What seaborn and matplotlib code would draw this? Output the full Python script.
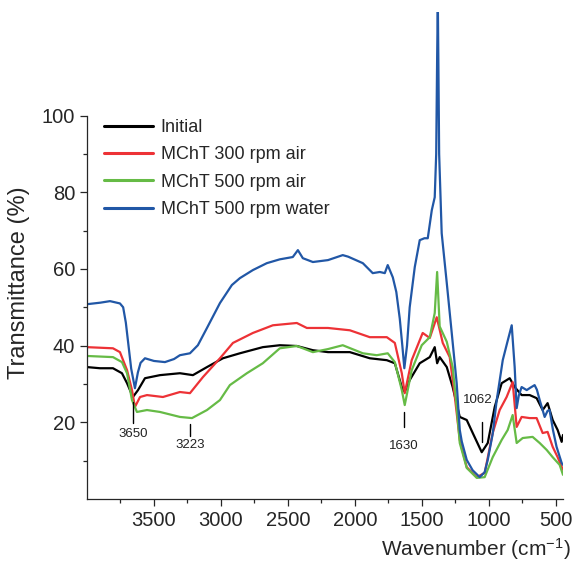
import pandas as pd
import seaborn as sns
import matplotlib.pyplot as plt

# FTIR spectra (wavenumber in cm-1, transmittance in %)
wn_initial = [4000, 3903, 3806, 3739, 3701, 3657, 3619, 3567, 3455, 3306, 3209, 3104, 2985, 2858,
              2687, 2560, 2433, 2313, 2200, 2037, 1888, 1761, 1701, 1649, 1627, 1590, 1515, 1440,
              1403, 1385, 1366, 1313, 1269, 1216, 1164, 1119, 1052, 1007, 955, 903, 843, 806, 754,
              694, 642, 597, 560, 522, 485, 455, 445]
t_initial = [34.4, 34.1, 34.1, 32.8, 30.2, 26.6, 28.4, 31.5, 32.3, 32.8, 32.3, 34.4, 36.7, 38.0,
             39.6, 40.1, 39.9, 38.8, 38.3, 38.3, 36.7, 36.2, 35.4, 29.2, 27.9, 31.0, 35.4, 37.0,
             39.6, 35.4, 37.0, 34.4, 29.2, 21.4, 20.6, 17.2, 12.2, 14.6, 24.0, 30.2, 31.5, 29.2, 27.1,
             27.1, 26.3, 23.2, 25.0, 20.6, 18.0, 14.9, 16.7]

wn_300air = [4000, 3806, 3754, 3701, 3664, 3642, 3604, 3552, 3433, 3306, 3231, 3134, 3007, 2910,
             2761, 2612, 2433, 2358, 2200, 2037, 1888, 1761, 1701, 1649, 1627, 1575, 1515, 1493,
             1440, 1388, 1343, 1291, 1254, 1216, 1164, 1089, 1030, 970, 918, 866, 821, 791, 754,
             694, 642, 597, 560, 522, 485, 445]
t_300air = [39.6, 39.3, 38.3, 33.6, 28.4, 24.0, 26.6, 27.1, 26.6, 27.9, 27.6, 31.8, 36.7, 40.7,
            43.3, 45.3, 45.9, 44.6, 44.6, 44.0, 42.2, 42.2, 40.7, 32.8, 27.6, 36.2, 41.4, 43.3,
            42.0, 47.4, 40.7, 37.0, 27.0, 15.4, 8.3, 5.7, 6.8, 17.2, 23.2, 26.6, 30.5, 18.8, 21.4,
            21.1, 21.1, 17.2, 17.5, 13.6, 10.9, 7.6]

wn_500air = [4000, 3806, 3739, 3701, 3664, 3627, 3552, 3455, 3306, 3216, 3104, 3007, 2933, 2806,
             2687, 2560, 2433, 2313, 2200, 2090, 1940, 1836, 1754, 1701, 1649, 1627, 1575, 1500,
             1440, 1403, 1385, 1366, 1313, 1269, 1239, 1216, 1164, 1089, 1030, 970, 903, 858, 821,
             791, 746, 672, 619, 567, 522, 470, 445]
t_500air = [37.3, 37.0, 35.7, 32.8, 25.8, 22.7, 23.2, 22.7, 21.4, 21.1, 23.2, 25.8, 29.7, 32.8,
            35.4, 39.3, 39.9, 38.3, 39.1, 40.1, 38.0, 37.5, 38.0, 35.7, 28.4, 24.5, 33.6, 40.1,
            42.2, 48.5, 59.2, 45.0, 41.0, 34.4, 24.0, 14.6, 8.1, 5.5, 5.7, 10.9, 15.4, 18.0, 21.9,
            14.6, 15.9, 16.2, 14.6, 12.8, 10.9, 8.9, 6.3]

wn_500water = [4000, 3900, 3828, 3754, 3730, 3710, 3690, 3670, 3642, 3620, 3600, 3567, 3500, 3418,
               3350, 3306, 3231, 3172, 3104, 3007, 2918, 2858, 2761, 2657, 2560, 2463, 2425, 2388,
               2313, 2200, 2090, 2050, 1940, 1866, 1813, 1776, 1754, 1716, 1690, 1664, 1645, 1630,
               1610, 1590, 1552, 1515, 1480, 1455, 1425, 1403, 1392, 1385, 1380, 1376, 1370, 1351,
               1313, 1276, 1239, 1216, 1201, 1164, 1120, 1067, 1030, 1007, 970, 940, 895, 860, 828,
               806, 791, 775, 754, 716, 690, 657, 640, 619, 582, 560, 545, 520, 493, 455, 445]
t_500water = [50.8, 51.2, 51.6, 51.0, 50.0, 46.0, 40.0, 34.0, 28.9, 33.0, 35.5, 36.7, 36.0, 35.7,
              36.5, 37.5, 38.0, 40.1, 44.6, 51.1, 55.8, 57.6, 59.7, 61.5, 62.5, 63.1, 64.9, 62.8,
              61.8, 62.3, 63.6, 63.2, 61.5, 58.9, 59.2, 58.9, 61.0, 57.8, 54.0, 47.0, 40.0, 34.1,
              40.0, 50.0, 60.5, 67.5, 68.0, 68.0, 75.3, 78.7, 90.0, 115.0, 130.0, 115.0, 90.0, 69.3,
              56.3, 43.3, 30.2, 18.0, 15.0, 10.2, 7.5, 5.7, 7.0, 10.2, 17.0, 25.8, 36.2, 41.0, 45.3,
              34.4, 23.7, 27.0, 29.2, 28.4, 29.0, 29.7, 28.5, 25.8, 21.4, 23.0, 23.2, 18.0, 13.6, 9.4, 8.9]

labels = ["Initial", "MChT 300 rpm air", "MChT 500 rpm air", "MChT 500 rpm water"]
colors = ["#000000", "#ed3236", "#66bb46", "#2157a6"]

# band annotations
peaks = ["3650", "3223", "1630", "1062"]
peak_x = [3657, 3231, 1634, 1052]

frames = []
for lab, wn, tt in zip(labels,
                       [wn_initial, wn_300air, wn_500air, wn_500water],
                       [t_initial, t_300air, t_500air, t_500water]):
    frames.append(pd.DataFrame({"wavenumber": wn, "T": tt, "sample": lab}))
df = pd.concat(frames, ignore_index=True)

sns.set_style("ticks")
plt.rcParams['font.family'] = ['Liberation Sans', 'DejaVu Sans']
plt.rcParams['mathtext.fontset'] = 'custom'
plt.rcParams['mathtext.rm'] = 'Liberation Sans'
plt.rcParams['mathtext.it'] = 'Liberation Sans'

fig = plt.figure(figsize=(5.74, 5.65), dpi=100)
ax = fig.add_axes([87 / 574, 1 - 499 / 565, 476 / 574, 487 / 565])

sns.lineplot(data=df, x="wavenumber", y="T", hue="sample", hue_order=labels,
             palette=colors, estimator=None, linewidth=1.6, ax=ax)

ax.set_xlim(4000, 445)
ax.set_ylim(0, 127)
ax.set_xticks([3500, 3000, 2500, 2000, 1500, 1000, 500])
ax.set_xticks([3750, 3250, 2750, 2250, 1750, 1250, 750], minor=True)
ax.set_yticks([20, 40, 60, 80, 100])
ax.set_yticks([10, 30, 50, 70, 90], minor=True)
ax.tick_params(which="major", length=5, width=0.9, labelsize=14.5, direction="out")
ax.tick_params(which="minor", length=3, width=0.9, direction="out")
for s in ["top", "right"]:
    ax.spines[s].set_visible(False)
ax.spines["left"].set_bounds(0, 100)
ax.spines["left"].set_linewidth(0.9)
ax.spines["bottom"].set_linewidth(0.9)

ax.set_ylabel("Transmittance (%)", fontsize=17, va="center")
ax.yaxis.set_label_coords(-0.142, 0.4435)
ax.set_xlabel("Wavenumber (cm$^{-1}$)", fontsize=15, ha="right", va="center")
ax.xaxis.set_label_coords(1.017, -0.103)

# vertical band markers with labels
marker_lo = [19.8, 16.4, 18.8, 14.9]
marker_hi = [25.3, 19.5, 22.7, 20.0]
label_y = [17.0, 14.0, 13.8, 25.8]
label_x = [3657, 3231, 1634, 1080]
for p, x, lo, hi, lx, ly in zip(peaks, peak_x, marker_lo, marker_hi, label_x, label_y):
    ax.plot([x, x], [lo, hi], color="black", lw=1.0)
    ax.text(lx, ly, p, fontsize=9.5, ha="center", va="center", color="#222222")

leg = ax.legend(loc="upper left", bbox_to_anchor=(104 / 574, 1 - 119 / 565),
                bbox_transform=fig.transFigure, frameon=False, fontsize=13,
                handlelength=2.7, handletextpad=0.45, labelspacing=0.57,
                borderpad=0, borderaxespad=0)
for line in leg.get_lines():
    line.set_linewidth(2.2)

fig.savefig("out.png", dpi=100)
